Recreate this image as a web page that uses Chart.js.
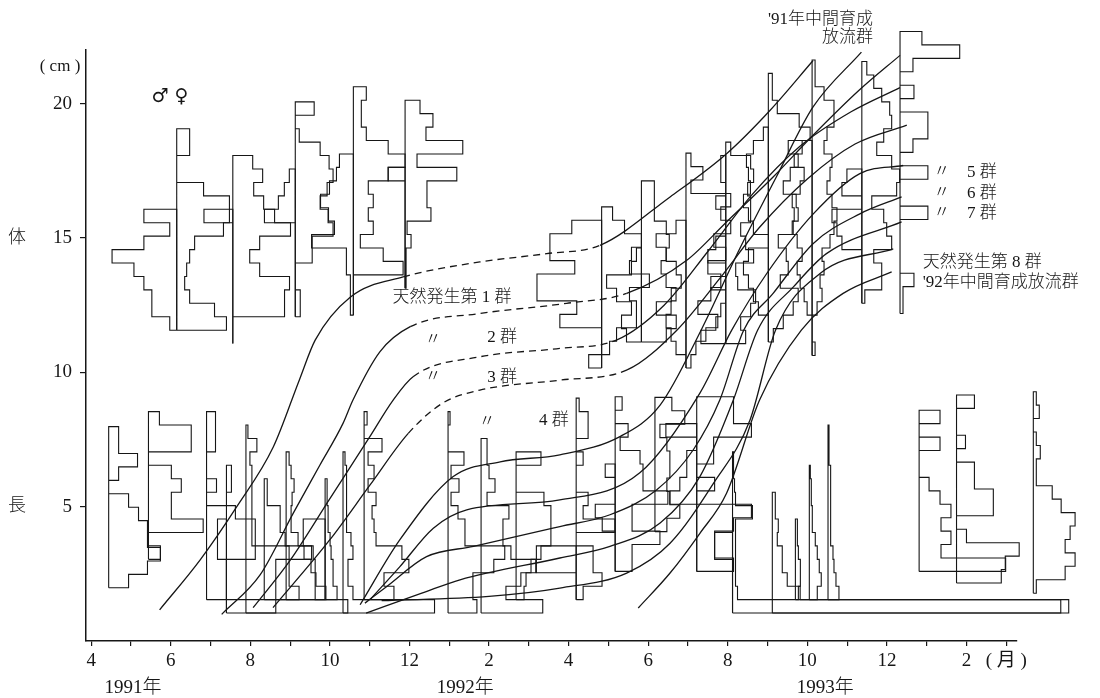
<!DOCTYPE html>
<html>
<head>
<meta charset="utf-8">
<script src="https://cdn.jsdelivr.net/npm/chart.js@4.4.1/dist/chart.umd.min.js"></script>
<style>
  html, body { margin: 0; padding: 0; background: #fff; }
</style>
</head>
<body>
<canvas id="growth" width="1100" height="698"></canvas>
<script>
// x = months counted from April 1991 (0 = Apr '91), y = body length (cm)
const xTickValues = [0,1,2,3,4,5,6,7,8,9,10,11,12,13,14,15,16,17,18,19,20,21,22,23];
const xTickLabels = ['4','','6','','8','','10','','12','','2','','4','','6','','8','','10','','12','','2','( 月 )'];
const yTickValues = [5, 10, 15, 20];
const yearLabels = ['1991年', '1992年', '1993年'];
const yearLabelAt = [1.05, 9.4, 18.45];

// length-frequency histograms: sampling date, lowest class (cm), counts per 0.5 cm class (bottom -> top)
// right side = female, left side = male
const histDate = [2.15, 3.56, 5.13, 6.59, 7.89, 0.44, 1.44,
  2.9, 3.4, 3.89, 4.35, 4.9, 5.88, 6.33, 6.86, 8.97, 9.8, 10.68,
  12.19, 12.83, 13.17, 13.83, 14.17, 14.95, 15.22, 15.95, 17.02, 18.12, 19.37, 20.33,
  16.12, 17.12, 17.7, 18.05, 18.52, 20.81, 21.75, 23.68];
const histBase = [11.57, 11.07, 12.07, 12.13, 13.13, 1.98, 3.04,
  1.54, 1.04, 1.04, 1.54, 1.54, 1.54, 1.04, 1.54, 1.04, 1.04, 1.54,
  1.54, 10.16, 2.59, 11.13, 4.07, 10.16, 2.59, 11.07, 11.13, 10.63, 12.57, 12.19,
  1.04, 1.04, 1.54, 1.54, 1.54, 2.59, 2.16, 1.78];
const histRight = [
  [50,38,13,8,10,13,18,47,53,53,27,0,0,13,13],
  [0,0,52,52,57,27,17,27,58,42,31,21,30,20],
  [5,5,0,0,17,17,38,33,25,32,38,34,25,4,0,19],
  [0,0,0,50,30,7,20,15,20,15,35,52,35,13,8,8,13],
  [1,1,1,6,2,26,22,22,52,12,58,21,28,15],
  [20,39,52,39,39,30,20,0,10,29,10,10],
  [12,0,55,23,23,33,23,0,43,43,11],
  [20,20,20,49,49,49,29,0,10,0,0,9,9,9],
  [122,0,0,0,0,0,0,0,0,5,5],
  [30,30,30,30,66,6,6,6,6,6,6,4,11,2],
  [35,25,25,25,21,16,16,3,3],
  [40,30,25,18,12,5,5,6,8,5,3],
  [12,8,8,6,5,3,3,2,2],
  [92,10,5,5,10,8,4,4,4,3,3,2],
  [30,20,45,38,12,10,8,12,4,10,4,18,0,3],
  [29,25,25,46,57,17,17,10,3,11,3,16,0,0,2],
  [62,25,40,55,30,22,22,28,6,14,8,6,6],
  [8,10,15,25,35,35,35,28,0,0,25],
  [7,26,17,17,0,39,7,12,0,0,7,0,12,12,3],
  [0,8,15,35,35,28,48,28,30,40,23,11],
  [17,17,45,17,17,53,28,28,25,5,13,0,7],
  [25,35,15,30,40,35,25,28,25,13,13,13],
  [12,25,15,12,15,15,12,5,30,17],
  [5,10,20,32,12,25,35,22,40,28,45,35,45,5,17,5],
  [37,18,18,37,55,0,18,0,17,17,55,37,37],
  [20,15,25,30,12,10,28,20,15,25,25,22,28,25,5],
  [5,15,25,30,12,20,18,10,25,30,28,15,22,30,20,42,31,9,4,4],
  [3,0,0,5,10,8,12,10,18,22,25,20,15,18,20,12,15,22,22,12,3,3],
  [3,20,20,12,30,25,22,10,35,38,30,15,22,30,28,20,12,5],
  [3,3,14,0,0,0,0,28,0,0,28,0,13,28,28,0,14,0,13,60,22],
  [330,5,3,3,3,3,3,20,3,2,1,1],
  [298,28,15,10,10,5,6,3,3],
  [3,5,5,3,2,2],
  [8,12,10,8,6,3,3,2,2,1],
  [11,8,6,5,3,3,3,3,2,2,1,1,1],
  [87,22,32,22,32,21,10,0,0,21,0,21],
  [45,49,63,10,0,37,37,18,18,0,9,0,0,18],
  [3,32,42,32,37,42,28,19,3,3,7,3,0,6,3]
];
const histLeft = [
  [7,25,25,33,43,65,33,7,33],
  [0,0,0,0,0,0,0,0,0,29],
  [0,0,0,0,0,0,0,31,17,11,6],
  [3,3,3,7,7,42,19,25,33,24,17,14],
  [0,0,0,0,0,0,0,0,17],
  [], [],
  [], [0,0,0,0,9,9,9], [], [], [], [10,10,10,12,22,22], [], [], [], [], [],
  [0,0,40,40],
  [13,0,0,42,25,65,65,27,52,52,30],
  [0,0,0,13,20,0,0,10],
  [15,20,10,25,35,10,5],
  [],
  [0,10,15,20,15,10,20,25,20,30,10],
  [0,0,0,0,0,27,17,10,10,0,31],
  [25,10,5,0,15,0,18,10,0,0,10,0,5,5],
  [0,0,10,15,20,25,20,0,15,20,25,18,20,22,15,5],
  [0,0,0,5,8,12,15,10,15,20,18,20,12,8,18,10],
  [0,0,0,0,20,25,30,0,20,15],
  [],
  [0,0,0,0,18,18], [], [], [], [], [], [], []
];

// growth curves [month, cm]; the winter span of groups 1-4 was not sampled and is drawn dashed
const grp1 = [[1.72,1.16],[2.74,3.02],[3.66,5.0],[4.58,7.23],[5.23,9.71],[5.63,11.2],[6.51,12.8],[7.84,13.55],
  [9.77,14.11],[11.45,14.42],[12.79,14.73],[14.55,16.53],[15.97,18.14],[17.06,19.75],[18.14,21.6]];
const grp2 = [[3.28,0.99],[4.25,2.47],[5.08,4.76],[5.75,6.55],[6.33,8.1],[6.58,8.97],[7.26,10.77],[8.02,11.7],
  [9.77,12.19],[11.95,12.57],[13.46,12.94],[14.97,14.17],[15.97,15.6],[17.14,17.27],[18.1,18.76],[19.3,20.5],[20.33,21.8]];
const grp3 = [[4.07,1.24],[5.0,3.0],[6.0,5.3],[7.0,7.6],[7.59,8.97],[8.09,9.84],
  [9.77,10.58],[11.78,10.89],[13.2,11.2],[14.4,12.5],[15.5,14.5],[16.6,16.6],[17.8,18.4],[19.1,19.7],[20.33,20.6]];
const grp4 = [[4.57,1.24],[6.0,3.77],[7.01,5.81],[7.97,7.73],
  [8.84,8.86],[9.77,9.34],[11.78,9.71],[13.47,10.09],[14.72,11.57],[15.8,13.5],[16.8,15.4],[18.0,17.2],[19.2,18.5],[20.5,19.2]];
const winterSpan = [[7.84, 12.79], [8.02, 13.46], [8.09, 13.2], [7.97, 13.47]];
const release91 = [[6.76,1.35],[7.76,3.77],[9.1,6.12],[10.28,6.67],[11.78,6.93],[13.29,7.61],[14.3,8.78],[15.33,11.57],[16.3,14.6],[17.23,17.3],[18.14,19.87],[19.36,21.92]];
const grp5 = [[7.01,1.54],[7.76,2.77],[8.6,4.2],[9.44,4.88],[11.78,5.25],[13.79,6.26],[15.3,9.23],[16.1,11.57],[16.98,13.68],[18.15,15.9],[19.32,17.4],[20.41,17.7]];
const grp6 = [[6.88,1.41],[7.43,2.03],[8.43,3.14],[9.61,3.52],[11.78,4.26],[13.04,4.7],[14.21,5.62],[15.13,7.11],[15.8,8.97],[16.4,11.57],[17.14,12.94],[18.15,14.8],[19.32,15.9],[20.37,16.53]];
const grp7 = [[6.91,1.04],[8.31,1.78],[9.27,2.28],[11.78,3.09],[13.04,3.52],[14.3,4.39],[15.3,6.12],[16.14,8.97],[16.75,11.57],[17.65,13.18],[18.48,14.42],[20.37,15.6]];
const grp8 = [[7.3,1.5],[10.0,1.66],[11.78,1.97],[13.46,2.53],[14.55,3.64],[15.64,5.87],[16.56,8.23],[17.2,11.57],[18.32,13.68],[20.16,14.6]];
const release92 = [[13.75,1.23],[14.55,2.53],[15.3,4.01],[15.97,5.5],[16.8,8.97],[17.85,11.57],[18.9,12.94],[20.12,13.74]];

const brokenCurves = [grp1, grp2, grp3, grp4];
const solidCurves = [release91, grp5, grp6, grp7, grp8, release92];

const CLASS_CM = 0.5;         // length class width
const COUNT_TO_MONTH = 0.025; // bar length per count on the time axis
const INK = '#161616';

function stepOutline(t0, y0, counts, side) {
  const pts = [{x: t0, y: y0}];
  counts.forEach((c, i) => {
    const x = t0 + side * c * COUNT_TO_MONTH;
    pts.push({x: x, y: y0 + i * CLASS_CM}, {x: x, y: y0 + (i + 1) * CLASS_CM});
  });
  pts.push({x: t0, y: y0 + counts.length * CLASS_CM});
  pts.push({x: t0, y: y0});
  return pts;
}

const toXY = c => c.map(p => ({x: p[0], y: p[1]}));

const datasets = [];
histDate.forEach((t0, i) => {
  datasets.push({data: stepOutline(t0, histBase[i], histRight[i], 1), borderWidth: 1.1});
  if (histLeft[i].length) {
    datasets.push({data: stepOutline(t0, histBase[i], histLeft[i], -1), borderWidth: 1.1});
  }
});
brokenCurves.forEach((c, i) => {
  const span = winterSpan[i];
  datasets.push({
    data: toXY(c),
    borderWidth: 1.3,
    cubicInterpolationMode: 'monotone',
    segment: {
      borderDash: ctx => (ctx.p0.parsed.x >= span[0] - 1e-6 && ctx.p1.parsed.x <= span[1] + 1e-6) ? [7, 5] : undefined
    }
  });
});
solidCurves.forEach(c => {
  datasets.push({data: toXY(c), borderWidth: 1.3, cubicInterpolationMode: 'monotone'});
});
datasets.forEach(d => {
  d.showLine = true;
  d.pointRadius = 0;
  d.borderColor = INK;
  d.fill = false;
  d.clip = false;
});

const serif = '"Liberation Serif", "Noto Sans CJK JP", serif';

// text notes in data coordinates
const notes = [
  ['天然発生第 1 群', 9.07, 12.8, 'center'],
  ['〃', 8.59, 11.2, 'center'], ['2 群', 10.33, 11.3, 'center'],
  ['〃', 8.59, 9.79, 'center'], ['3 群', 10.33, 9.79, 'center'],
  ['〃', 9.95, 8.15, 'center'], ['4 群', 11.63, 8.19, 'center'],
  ["'91年中間育成", 19.65, 23.13, 'right'],
  ['放流群', 19.65, 22.45, 'right'],
  ['〃', 21.38, 17.45, 'center'], ['5 群', 22.39, 17.45, 'center'],
  ['〃', 21.38, 16.67, 'center'], ['6 群', 22.39, 16.67, 'center'],
  ['〃', 21.38, 15.92, 'center'], ['7 群', 22.39, 15.92, 'center'],
  ['天然発生第 8 群', 20.9, 14.1, 'left'],
  ["'92年中間育成放流群", 20.9, 13.36, 'left']
];

const textPlugin = {
  id: 'notes',
  afterDraw(chart) {
    const {ctx, scales: {x, y}, chartArea} = chart;
    ctx.save();
    ctx.fillStyle = INK;
    ctx.textBaseline = 'middle';
    ctx.font = '300 17px ' + serif;
    notes.forEach(n => {
      ctx.textAlign = n[3];
      ctx.fillText(n[0], x.getPixelForValue(n[1]), y.getPixelForValue(n[2]));
    });
    ctx.font = '300 19px ' + serif;
    ctx.textAlign = 'center';
    yearLabels.forEach((s, i) => {
      ctx.fillText(s, x.getPixelForValue(yearLabelAt[i]), chartArea.bottom + 47);
    });
    ctx.font = '300 18px ' + serif;
    ctx.fillText('体', 17, y.getPixelForValue(15));
    ctx.fillText('長', 17, y.getPixelForValue(5));
    ctx.font = '17px ' + serif;
    ctx.fillText('( cm )', 60, y.getPixelForValue(21.39));
    ctx.font = '19px "DejaVu Sans", sans-serif';
    ctx.fillText('♂ ♀', x.getPixelForValue(1.98), y.getPixelForValue(20.23));
    ctx.restore();
  }
};

new Chart(document.getElementById('growth'), {
  type: 'scatter',
  data: {datasets: datasets},
  plugins: [textPlugin],
  options: {
    responsive: false,
    animation: false,
    events: [],
    layout: {padding: {top: 50, right: 83, left: 0, bottom: 0}},
    plugins: {legend: {display: false}, tooltip: {enabled: false}},
    scales: {
      x: {
        type: 'linear',
        min: -0.13,
        max: 23.27,
        afterBuildTicks: s => { s.ticks = xTickValues.map(v => ({value: v})); },
        afterFit: s => { s.height = 57; },
        ticks: {
          autoSkip: false,
          maxRotation: 0,
          padding: 4,
          color: INK,
          font: {family: serif, size: 19},
          callback: (v, i) => xTickLabels[i]
        },
        grid: {drawOnChartArea: false, drawTicks: true, tickLength: 5, color: INK, lineWidth: 1.2},
        border: {display: true, color: INK, width: 1.5}
      },
      y: {
        type: 'linear',
        min: 0,
        max: 22,
        afterBuildTicks: s => { s.ticks = yTickValues.map(v => ({value: v})); },
        afterFit: s => { s.width = 86; },
        ticks: {
          padding: 8,
          color: INK,
          font: {family: serif, size: 19},
          callback: v => String(v)
        },
        grid: {drawOnChartArea: false, drawTicks: true, tickLength: 6, color: INK, lineWidth: 1.2},
        border: {display: true, color: INK, width: 1.5}
      }
    }
  }
});
</script>
</body>
</html>
